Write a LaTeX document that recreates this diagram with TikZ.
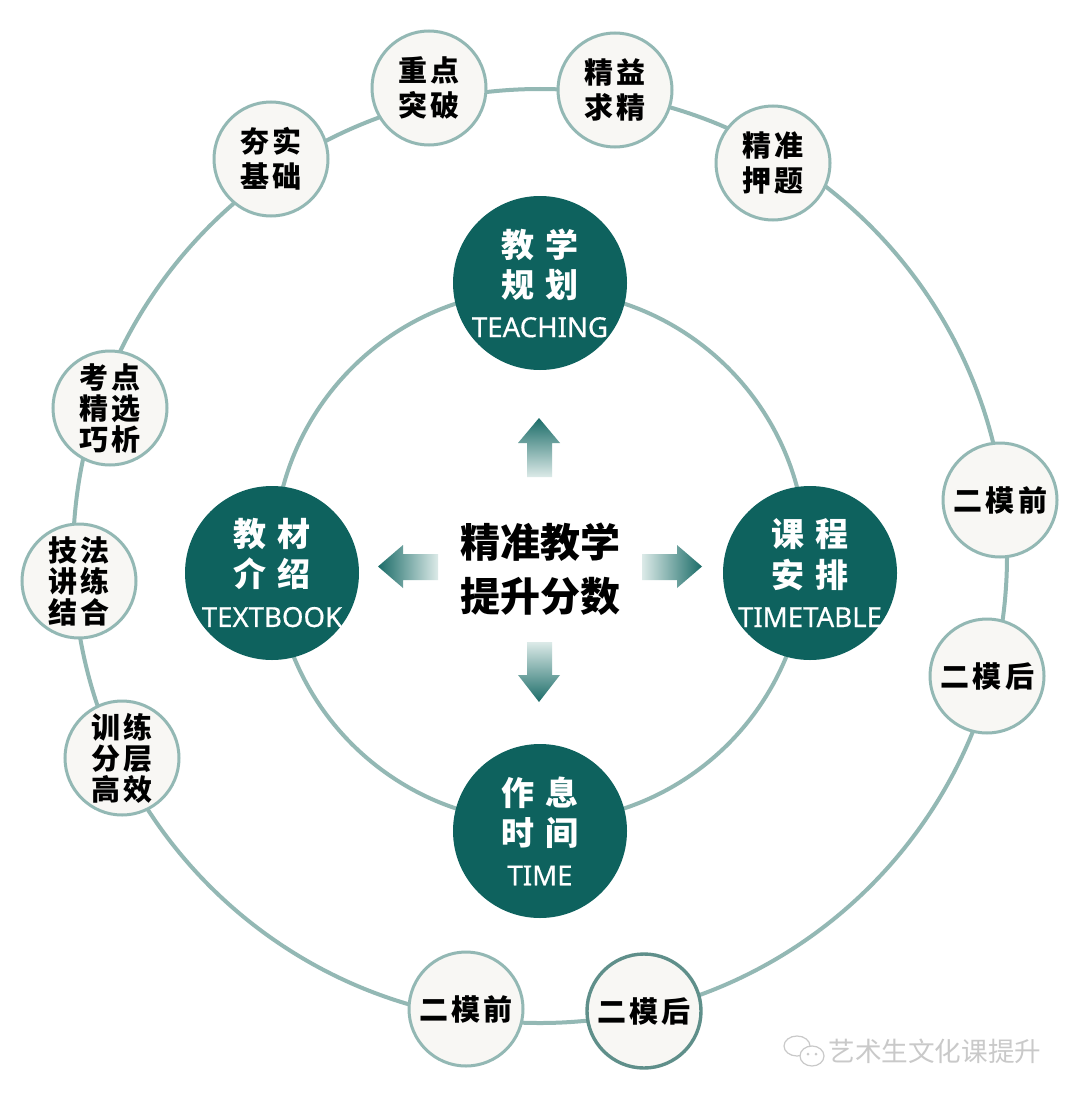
\documentclass[tikz,border=0pt]{standalone}
\usepackage{fontspec}
\setmainfont{Noto Sans CJK SC}
\newfontfamily\cjk{Noto Sans CJK SC}
\newfontfamily\latn[FakeBold=0.5]{Noto Sans}
\definecolor{tealdark}{HTML}{0E625E}
\definecolor{ringcol}{HTML}{93B8B4}
\definecolor{palefill}{HTML}{F8F7F4}
\definecolor{arrdark}{HTML}{1B6C68}
\definecolor{arrlight}{HTML}{DCEAE8}
\definecolor{wmark}{HTML}{C9C9C9}
\definecolor{darkring}{HTML}{5F8F8A}
\tikzset{
  smallc/.style={circle, draw=ringcol, line width=1.5pt, fill=palefill, minimum size=57pt,
    inner sep=0pt, align=center, text=black},
  two/.style={font=\cjk\bfseries\fontsize{14.5}{17.5}\selectfont},
  three/.style={font=\cjk\bfseries\fontsize{14.5}{15.5}\selectfont},
  bigc/.style={circle, fill=tealdark, minimum size=87pt, inner sep=0pt},
  bigtext/.style={text=white, align=center, inner sep=0pt,
    font=\cjk\bfseries\fontsize{16.5}{20}\selectfont},
  ringline/.style={draw=ringcol, line width=2pt},
  blockarrow/.style={draw=none}
}
\newcommand{\eng}[1]{{\latn\mdseries\fontsize{13.8}{18.5}\selectfont #1}}
\begin{document}
\begin{tikzpicture}[x=0.5pt,y=-0.5pt]
\useasboundingbox[fill=white] (0,0) rectangle (1080,1102);
\coordinate (c) at (540,556);
% rings
\draw[ringline] (c) circle[radius=467];
\draw[ringline] (c) circle[radius=266];

% outer small circles
\node[smallc,two] (zd) at (429,88) {重\kern1.5pt点\\突\kern1.5pt破};
\node[smallc,two] (jy) at (615,90) {精\kern1.5pt益\\求\kern1.5pt精};
\node[smallc,two] (hs) at (271,159) {夯\kern1.5pt实\\基\kern1.5pt础};
\node[smallc,two] (jz) at (773,163) {精\kern1.5pt准\\押\kern1.5pt题};
\node[smallc,three] (kd) at (110,408) {考\kern1.5pt点\\精\kern1.5pt选\\巧\kern1.5pt析};
\node[smallc,three] (jf) at (79,581) {技\kern1.5pt法\\讲\kern1.5pt练\\结\kern1.5pt合};
\node[smallc,three] (xl) at (122,758) {训\kern1.5pt练\\分\kern1.5pt层\\高\kern1.5pt效};
\node[smallc,two] (rq) at (1000,500) {二\kern2pt模\kern1.5pt前};
\node[smallc,two] (rh) at (987,676) {二\kern2pt模\kern1.5pt后};
\node[smallc,two] (bq) at (466,1009) {二\kern2pt模\kern1.5pt前};
\node[smallc,two,draw=darkring,line width=1.7pt] (bh) at (644,1011) {二\kern2pt模\kern1.5pt后};

% big circles
\node[bigc] (teach) at (540,283) {};
\node[bigtext] (teachT) at (teach.center) {教\kern6pt学\\规\kern6pt划\\\eng{TEACHING}};
\node[bigc] (book) at (272,573) {};
\node[bigtext] (bookT) at (book.center) {教\kern6pt材\\介\kern6pt绍\\\eng{TEXTBOOK}};
\node[bigc] (tt) at (810,573) {};
\node[bigtext] (ttT) at (tt.center) {课\kern6pt程\\安\kern6pt排\\\eng{TIMETABLE}};
\node[bigc] (time) at (540,831) {};
\node[bigtext] (timeT) at (time.center) {作\kern6pt息\\时\kern6pt间\\\eng{TIME}};

% center text
\node[align=center, font=\cjk\bfseries\fontsize{20}{27}\selectfont] (mid) at (540,569) {精准教学\\提升分数};

% block arrows
\shade[blockarrow, top color=arrdark, bottom color=arrlight]
  (527,477) -- (527,443) -- (518,443) -- (539,418) -- (560,443) -- (552,443) -- (552,477) -- cycle;
\shade[blockarrow, top color=arrlight, bottom color=arrdark]
  (527,642) -- (552,642) -- (552,675) -- (560,675) -- (539,702) -- (518,675) -- (527,675) -- cycle;
\shade[blockarrow, left color=arrlight, right color=arrdark]
  (642,554) -- (677,554) -- (677,545) -- (702,566.5) -- (677,588) -- (677,580) -- (642,580) -- cycle;
\shade[blockarrow, left color=arrdark, right color=arrlight]
  (438,554) -- (403,554) -- (403,545) -- (378,566.5) -- (403,588) -- (403,580) -- (438,580) -- cycle;

% watermark
\draw[wmark, line width=0.6pt] (797,1046) ellipse[x radius=13, y radius=10];
\draw[wmark, line width=0.6pt, fill=white] (812,1056) ellipse[x radius=12, y radius=10];
\fill[wmark] (808,1054) circle[radius=1.5] (816,1054) circle[radius=1.5];
\node[anchor=west, text=wmark, font=\cjk\fontsize{13.3}{16}\selectfont, inner sep=0pt] (wm) at (828,1051) {艺术生文化课提升};
\end{tikzpicture}
\end{document}
